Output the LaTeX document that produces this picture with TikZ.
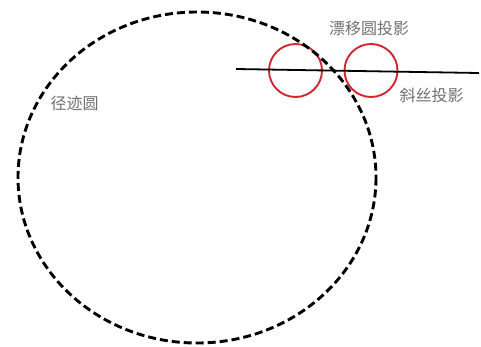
\documentclass[tikz,border=0pt]{standalone}
\usepackage{fontspec}
\newfontfamily\cjk{Noto Sans CJK SC}
\usepackage{xcolor}
\definecolor{driftRed}{HTML}{D3262E}
\definecolor{labelGray}{HTML}{707070}
\usetikzlibrary{positioning}
\tikzset{
  trackring/.style={
    draw=black,
    line width=2.9pt,
    dash pattern=on 8pt off 4pt
  },
  driftring/.style={
    circle,
    draw=driftRed,
    line width=1.9pt,
    minimum size=53pt,
    inner sep=0pt
  },
  wireline/.style={
    draw=black,
    line width=1.8pt
  },
  projlabel/.style={
    font=\cjk\fontsize{16}{16}\selectfont,
    text=labelGray,
    inner sep=0pt
  }
}

\begin{document}
\begin{tikzpicture}[x=1pt,y=-1pt]
  \useasboundingbox (0,0) rectangle (481,346);
  \node[driftring] (driftA) at (295.5,70.5) {};
  \node[driftring] (driftB) at (371,70.5) {};
  \draw[trackring] (197,177.5) ellipse [x radius=179, y radius=165.5];
  \coordinate (wireA) at (236,69);
  \coordinate (wireB) at (479,73);
  \draw[wireline] (wireA) -- (wireB);
  \node[projlabel] (driftlabel) at (369,28.5) {漂移圆投影};
  \node[projlabel] (wirelabel) at (431.5,95) {斜丝投影};
  \node[projlabel] (tracklabel) at (74.5,103.5) {径迹圆};
\end{tikzpicture}
\end{document}
